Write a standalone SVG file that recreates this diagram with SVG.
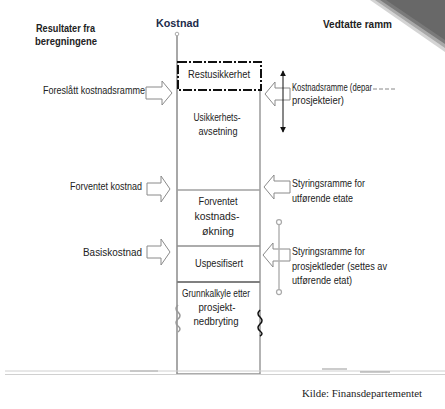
<svg xmlns="http://www.w3.org/2000/svg" width="445" height="409" viewBox="0 0 445 409">
  <defs>
    <marker id="tip" viewBox="0 0 8 8" refX="7" refY="4" markerWidth="6" markerHeight="6" orient="auto-start-reverse">
      <path d="M0,0 L8,4 L0,8 z" fill="#111"/>
    </marker>
    <marker id="dot" viewBox="0 0 6 6" refX="3" refY="3" markerWidth="5" markerHeight="5">
      <circle cx="3" cy="3" r="2" fill="#fff" stroke="#aaa" stroke-width="1"/>
    </marker>
  </defs>
  <style>
    .t { font-family: "Liberation Sans", Arial, sans-serif; font-size: 10.5px; fill: #222; }
    .b { font-weight: bold; }
    .m { text-anchor: middle; }
    .e { text-anchor: end; }
    .src { font-family: "Liberation Serif", "Times New Roman", serif; font-size: 10.5px; fill: #222; }
    .blk { fill: #fff; stroke: #8a8a8a; stroke-width: 1; }
  </style>

  <rect width="445" height="409" fill="#fff"/>
  <!-- shaded page corner: soft edge band and dark fill -->
  <polygon points="370,0 445,0 445,52" fill="#d4d4d4"/>
  <polygon points="375,0 445,0 445,48" fill="#a8a8a8"/>
  <polygon points="380,0 445,0 445,44" fill="#7a7a7a"/>
  <polygon points="386,0 445,0 445,40" fill="#686868"/>

  <!-- headings -->
  <g id="head-left">
    <text class="t b" x="36" y="32" textLength="59" lengthAdjust="spacingAndGlyphs">Resultater fra</text>
    <text class="t b" x="35" y="45" textLength="62" lengthAdjust="spacingAndGlyphs">beregningene</text>
  </g>
  <g id="head-axis">
    <text class="t b" x="156" y="27" textLength="43" lengthAdjust="spacingAndGlyphs" style="fill:#1c2b4a;font-size:11.5px">Kostnad</text>
  </g>
  <g id="head-right">
    <text class="t b" x="323" y="28" textLength="69" lengthAdjust="spacingAndGlyphs">Vedtatte ramm</text>
  </g>

  <!-- cost axis and column -->
  <g id="column">
    <line x1="177" y1="35" x2="177" y2="374" stroke="#a8a8a8" stroke-width="2"/>
    <circle cx="177" cy="34" r="1.8" fill="#fff" stroke="#aaa" stroke-width="1"/>
    <line x1="260" y1="90" x2="260" y2="374" stroke="#9a9a9a" stroke-width="1.5"/>
    <line x1="177" y1="190" x2="260" y2="190" stroke="#a0a0a0" stroke-width="1.5"/>
    <line x1="177" y1="246" x2="260" y2="246" stroke="#909090" stroke-width="1.5"/>
    <line x1="177" y1="282" x2="260" y2="282" stroke="#808080" stroke-width="2"/>
    <line x1="177" y1="374" x2="260" y2="374" stroke="#909090" stroke-width="1.5"/>
  </g>

  <g id="restusikkerhet">
    <rect x="178" y="62" width="83" height="28" fill="none" stroke="#111" stroke-width="2" stroke-dasharray="9,2,2,2"/>
    <text class="t m" x="219" y="78" textLength="62" lengthAdjust="spacingAndGlyphs">Restusikkerhet</text>
  </g>
  <g id="usikkerhetsavsetning">
    <text class="t m" x="217" y="121" textLength="47" lengthAdjust="spacingAndGlyphs">Usikkerhets-</text>
    <text class="t m" x="218" y="135" textLength="39" lengthAdjust="spacingAndGlyphs">avsetning</text>
  </g>
  <g id="forventet-okning">
    <text class="t m" x="218" y="205" textLength="39" lengthAdjust="spacingAndGlyphs">Forventet</text>
    <text class="t m" x="217" y="220" textLength="45" lengthAdjust="spacingAndGlyphs">kostnads-</text>
    <text class="t m" x="218" y="235" textLength="32" lengthAdjust="spacingAndGlyphs">økning</text>
  </g>
  <g id="uspesifisert">
    <text class="t m" x="219" y="267" textLength="48" lengthAdjust="spacingAndGlyphs">Uspesifisert</text>
  </g>
  <g id="grunnkalkyle">
    <text class="t m" x="216" y="297" textLength="68" lengthAdjust="spacingAndGlyphs">Grunnkalkyle etter</text>
    <text class="t m" x="217" y="311" textLength="37" lengthAdjust="spacingAndGlyphs">prosjekt-</text>
    <text class="t m" x="216" y="325" textLength="45" lengthAdjust="spacingAndGlyphs">nedbryting</text>
    <path d="M178,305 q-4,4 0,7 q4,4 0,7 q-4,4 0,7 q4,3 0,6" fill="none" stroke="#999" stroke-width="1.5"/>
    <path d="M260,310 q-4,4 0,7 q4,4 0,7 q-4,4 0,7 q4,3 0,5" fill="none" stroke="#111" stroke-width="1.5"/>
  </g>

  <!-- calculation results (left) -->
  <g id="foreslatt">
    <text class="t e" x="145" y="94" textLength="102" lengthAdjust="spacingAndGlyphs">Foreslått kostnadsramme</text>
  </g>
  <g id="forventet-kostnad">
    <text class="t e" x="142" y="190" textLength="72" lengthAdjust="spacingAndGlyphs">Forventet kostnad</text>
  </g>
  <g id="basiskostnad">
    <text class="t e" x="142" y="256" textLength="59" lengthAdjust="spacingAndGlyphs">Basiskostnad</text>
  </g>

  <!-- approved frames (right) -->
  <g id="kostnadsramme">
    <text class="t" x="292" y="91" textLength="80" lengthAdjust="spacingAndGlyphs">Kostnadsramme (depar</text>
    <line x1="373" y1="89" x2="396" y2="89" stroke="#888" stroke-width="1" stroke-dasharray="4,2"/>
    <text class="t" x="292" y="104" textLength="52" lengthAdjust="spacingAndGlyphs">prosjekteier)</text>
  </g>
  <g id="styringsramme-etat">
    <text class="t" x="292" y="187" textLength="73" lengthAdjust="spacingAndGlyphs">Styringsramme for</text>
    <text class="t" x="292" y="202" textLength="61" lengthAdjust="spacingAndGlyphs">utførende etate</text>
  </g>
  <g id="styringsramme-prosjektleder">
    <text class="t" x="292" y="255" textLength="73" lengthAdjust="spacingAndGlyphs">Styringsramme for</text>
    <text class="t" x="292" y="270" textLength="95" lengthAdjust="spacingAndGlyphs">prosjektleder (settes av</text>
    <text class="t" x="292" y="284" textLength="60" lengthAdjust="spacingAndGlyphs">utførende etat)</text>
  </g>

  <!-- connectors: block arrows and range arrows -->
  <g id="connectors">
    <path class="blk" d="M146,87 H162 V81 L172,93 L162,105 V99 H146 Z"/>
    <path class="blk" d="M147,183 H161 V176 L170,189 L161,202 V195 H147 Z"/>
    <path class="blk" d="M147,246 H161 V239 L170,252 L161,265 V258 H147 Z"/>
    <path class="blk" d="M290,88 H275 V82 L265,94 L275,106 V100 H290 Z"/>
    <path class="blk" d="M290,181 H274 V175 L264,187 L274,199 V193 H290 Z"/>
    <path class="blk" d="M290,249 H273 V243 L263,255 L273,267 V261 H290 Z"/>
    <line x1="283" y1="71" x2="283" y2="132" stroke="#111" stroke-width="1" marker-start="url(#tip)" marker-end="url(#tip)"/>
    <line x1="279" y1="222" x2="279" y2="292" stroke="#b5b5b5" stroke-width="1.5" marker-start="url(#dot)" marker-end="url(#dot)"/>
  </g>

  <!-- baseline -->
  <line x1="5" y1="371" x2="445" y2="371" stroke="#d0d0d0" stroke-width="1"/>
  <line x1="5" y1="374.5" x2="445" y2="374.5" stroke="#d0d0d0" stroke-width="1"/>
  <line x1="130" y1="371" x2="158" y2="371" stroke="#aaa" stroke-width="1"/>
  <line x1="322" y1="369" x2="347" y2="369" stroke="#999" stroke-width="1"/>
  <line x1="360" y1="372" x2="390" y2="372" stroke="#999" stroke-width="1"/>

  <text class="src" x="302" y="397" textLength="120" lengthAdjust="spacingAndGlyphs">Kilde: Finansdepartementet</text>
</svg>
